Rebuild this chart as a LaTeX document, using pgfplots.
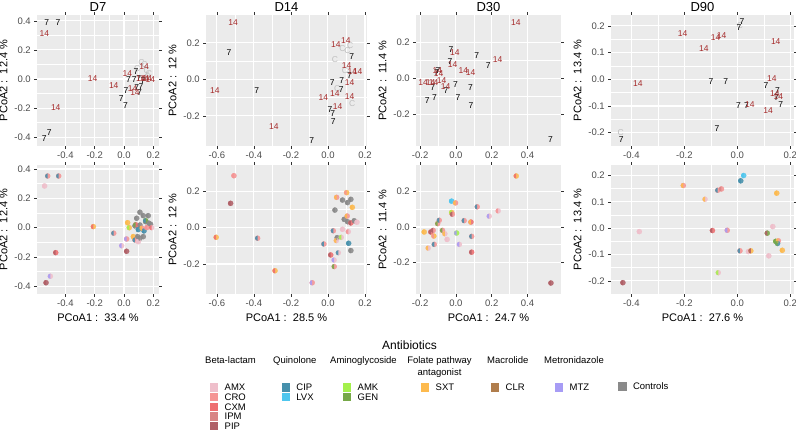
\documentclass[border=0pt]{standalone}
\usepackage{fontspec}
\setmainfont{Liberation Sans}
\usepackage{pgfplots}
\usepackage{pgfplotstable}
\pgfplotsset{compat=1.18}
\usetikzlibrary{calc}
\definecolor{panel}{HTML}{EBEBEB}
\definecolor{tickc}{HTML}{4D4D4D}
\definecolor{lab14}{HTML}{A52A2A}
\definecolor{cAMX}{HTML}{EFBFCB}
\definecolor{cCRO}{HTML}{F59494}
\definecolor{cCXM}{HTML}{EE6E70}
\definecolor{cIPM}{HTML}{D88585}
\definecolor{cPIP}{HTML}{B06067}
\definecolor{cCIP}{HTML}{4690AC}
\definecolor{cLVX}{HTML}{4EC6EE}
\definecolor{cAMK}{HTML}{A4F04C}
\definecolor{cGEN}{HTML}{76A848}
\definecolor{cSXT}{HTML}{FDBA4E}
\definecolor{cCLR}{HTML}{B07D4C}
\definecolor{cMTZ}{HTML}{A79CF5}
\definecolor{cCtl}{HTML}{8A8A8A}

% left half of a disc, drawn over the full disc for two-coloured points
\pgfdeclareplotmark{lhalf}{%
  \pgfpathmoveto{\pgfqpoint{0pt}{\pgfplotmarksize}}%
  \pgfpatharc{90}{270}{\pgfplotmarksize}%
  \pgfpathclose
  \pgfusepathqfill}

\pgfplotsset{
  gg/.style={
    scale only axis, axis background/.style={fill=panel},
    axis line style={draw=none},
    grid=both, major grid style={white, line width=1.1pt},
    minor grid style={white, line width=0.55pt},
    minor tick num=1, minor tick length=0pt,
    tick align=outside, major tick length=2.75pt,
    major tick style={black!80, line width=0.5pt},
    tick label style={font=\fontsize{9.5}{10}\selectfont, color=tickc},
    /pgf/number format/assume math mode=true,
    /pgf/number format/fixed, /pgf/number format/fixed zerofill,
    /pgf/number format/precision=1,
    label style={font=\fontsize{11}{12}\selectfont},
    title style={font=\fontsize{13}{14}\selectfont, yshift=-6pt},
    scaled ticks=false,
  },
  t7/.style={only marks, mark=text, text mark={7}, text mark as node=true,
    text mark style={font=\fontsize{8.5}{9}\selectfont, text=black}},
  t14/.style={only marks, mark=text, text mark={14}, text mark as node=true,
    text mark style={font=\fontsize{8.5}{9}\selectfont, text=lab14}},
  tC/.style={only marks, mark=text, text mark={C}, text mark as node=true,
    text mark style={font=\fontsize{8.5}{9}\selectfont, text=black!25}},
  abx/.style={only marks, scatter, point meta=explicit symbolic,
    scatter/classes={AMX={cAMX},CRO={cCRO},CXM={cCXM},IPM={cIPM},PIP={cPIP},
      CIP={cCIP},LVX={cLVX},AMK={cAMK},GEN={cGEN},SXT={cSXT},CLR={cCLR},
      MTZ={cMTZ},C={cCtl}},
    mark size=2.6pt, mark options={line width=0.2pt, fill opacity=0.88, draw opacity=0.88}},
}

% ---- top row: sample labels ----
\pgfplotstableread{
x y
-0.528 0.387
-0.45 0.387
-0.51 -0.366
-0.544 -0.407
0.082 0.05
0.03 -0.007
0.07 -0.002
0.1 0.0
0.13 -0.008
0.014 -0.08
0.105 -0.09
0.087 -0.06
-0.018 -0.133
0.011 -0.185
0.116 -0.053
}\sevenA
\pgfplotstableread{
x y
-0.544 0.314
-0.214 0.002
-0.07 -0.046
-0.466 -0.195
0.023 0.039
0.137 0.085
0.115 0.0
0.14 0.0
0.16 0.0
0.18 -0.002
0.059 -0.064
0.075 -0.091
}\sevenB
\pgfplotstableread{
x y
0.12 0.11
0.14 0.1
0.155 0.06
0.17 0.04
0.16 0.02
0.09 0.07
}\sevenC

\pgfplotstableread{
x y
-0.535 0.148
-0.385 -0.062
-0.088 -0.333
0.128 0.124
0.117 0.02
0.023 -0.018
0.074 -0.008
0.072 -0.055
0.011 -0.164
0.026 -0.19
0.029 -0.232
}\fourteenA
\pgfplotstableread{
x y
-0.512 0.312
-0.611 -0.059
-0.292 -0.26
0.043 0.188
0.097 0.21
0.101 0.073
0.132 0.04
0.16 0.04
0.117 -0.018
0.038 -0.08
-0.025 -0.099
0.117 -0.095
0.052 -0.15
}\fourteenB
\pgfplotstableread{
x y
0.079 0.17
0.106 0.16
0.12 0.185
0.038 0.11
0.092 0.05
0.05 -0.05
0.131 -0.135
}\fourteenC

\pgfplotstableread{
x y
-0.028 0.16
0.116 0.123
-0.033 0.092
0.18 0.068
-0.108 0.03
-0.13 -0.05
-0.002 -0.033
-0.056 -0.066
0.082 -0.053
-0.12 -0.107
-0.16 -0.125
0.011 -0.105
0.084 -0.153
0.529 -0.337
-0.1 0.045
}\thirtyA
\pgfplotstableread{
x y
0.335 0.309
-0.006 0.144
0.233 0.101
-0.018 0.078
-0.104 0.042
-0.097 0.028
0.041 0.042
0.082 0.033
-0.183 -0.024
-0.142 -0.024
-0.124 -0.026
-0.08 -0.015
-0.058 -0.043
}\thirtyB

\pgfplotstableread{
x y
0.018 0.218
0.006 0.195
-0.099 -0.01
-0.044 -0.01
0.108 -0.025
0.152 -0.043
0.148 -0.07
0.004 -0.097
0.035 -0.097
0.164 -0.094
-0.077 -0.184
-0.438 -0.227
}\ninetyA
\pgfplotstableread{
x y
-0.207 0.172
-0.082 0.156
-0.059 0.163
-0.126 0.117
0.145 0.141
-0.376 -0.015
0.13 0.004
0.142 -0.055
0.155 -0.065
0.047 -0.096
0.116 -0.119
}\ninetyB
\pgfplotstableread{
x y
0.01 0.2
-0.44 -0.2
0.15 -0.06
}\ninetyC

% ---- bottom row: antibiotic points (a = full disc, b = left half) ----
\pgfplotstableread{
x y a b
0.109 0.105 C C
0.132 0.082 C C
0.166 0.082 C C
0.087 0.064 C C
0.148 0.041 C C
0.171 0.03 C C
0.075 0.012 C C
0.109 0.018 C C
0.182 0.023 C C
0.093 -0.061 C C
0.132 -0.061 C C
0.109 -0.072 C C
-0.521 0.352 CRO CIP
-0.446 0.352 CRO CIP
-0.542 0.284 AMX AMX
-0.209 0.007 SXT CXM
-0.07 -0.038 CRO CIP
-0.466 -0.17 CXM PIP
-0.503 -0.331 AMX MTZ
-0.532 -0.375 PIP PIP
0.018 -0.161 PIP PIP
-0.016 -0.123 AMX MTZ
0.018 -0.077 CRO MTZ
0.025 0.034 SXT SXT
0.036 0.0 SXT AMK
0.064 -0.061 SXT SXT
0.075 -0.084 CRO CIP
0.098 -0.095 AMX AMX
0.137 -0.022 CIP CIP
0.123 -0.004 CRO SXT
0.189 0.0 AMX CXM
0.148 0.048 GEN CIP
0.157 0.001 CRO CRO
0.098 -0.013 CIP CIP
0.08 0.02 CXM GEN
}\ptsSeven
\pgfplotstableread{
x y a b
0.079 0.152 C C
0.106 0.138 C C
0.124 0.156 C C
0.038 0.097 C C
0.088 0.046 C C
0.106 0.033 C C
0.142 0.038 C C
0.05 -0.055 C C
0.124 -0.126 C C
-0.508 0.286 CRO CRO
0.101 0.193 SXT CRO
0.047 0.167 CRO SXT
-0.526 0.134 PIP PIP
-0.604 -0.053 SXT CXM
-0.38 -0.058 CRO CIP
-0.286 -0.237 SXT CXM
-0.085 -0.303 CRO MTZ
0.132 0.112 SXT SXT
0.104 0.064 CRO SXT
0.124 0.026 CXM PIP
0.157 0.03 AMX AMX
0.029 -0.017 CRO CIP
0.079 -0.009 AMX AMX
0.11 -0.022 AMX CRO
0.072 -0.053 AMX AMK
0.045 -0.071 AMX SXT
-0.022 -0.09 CRO CIP
0.112 -0.086 CIP CIP
0.056 -0.138 AMX CIP
0.015 -0.15 CXM PIP
0.033 -0.178 AMX MTZ
0.034 -0.214 CRO GEN
}\ptsFourteen
\pgfplotstableread{
x y a b
0.337 0.288 SXT CXM
-0.024 0.146 LVX LVX
-0.002 0.136 CRO SXT
0.119 0.114 CRO CIP
0.236 0.091 AMX CRO
0.186 0.061 AMX MTZ
-0.024 0.082 SXT AMK
-0.02 0.072 CRO PIP
0.046 0.036 CRO CIP
0.084 0.028 CXM SXT
-0.093 0.038 CRO CIP
-0.102 0.019 CRO GEN
-0.177 -0.028 SXT SXT
-0.14 -0.028 CXM PIP
-0.127 -0.019 CRO PIP
-0.075 -0.019 CRO GEN
-0.123 -0.051 SXT CRO
-0.062 -0.038 AMX SXT
-0.049 -0.07 AMX AMX
0.004 -0.034 AMK MTZ
0.088 -0.053 CRO CIP
0.019 -0.098 AMX MTZ
-0.121 -0.098 CRO CIP
-0.155 -0.119 AMX SXT
0.088 -0.142 CXM PIP
0.531 -0.316 PIP PIP
}\ptsThirty
\pgfplotstableread{
x y a b
0.024 0.2 LVX LVX
0.013 0.18 CIP CIP
-0.204 0.162 CRO SXT
-0.074 0.144 CRO CIP
-0.06 0.149 CRO IPM
0.149 0.133 SXT SXT
-0.122 0.11 AMX SXT
-0.37 -0.013 AMX AMX
-0.094 -0.009 CXM PIP
-0.038 -0.008 CRO MTZ
0.134 0.006 AMX AMX
0.113 -0.019 GEN PIP
0.145 -0.05 GEN GEN
0.155 -0.048 CRO SXT
0.152 -0.058 CIP GEN
0.01 -0.086 CRO CIP
0.042 -0.089 AMX AMX
0.051 -0.086 SXT PIP
0.17 -0.084 SXT SXT
0.119 -0.105 AMX AMX
-0.072 -0.169 AMX AMK
-0.432 -0.207 PIP PIP
}\ptsNinety

\newcommand{\key}[4]{%
  \fill[#1] (#2,#3) rectangle ++(8.3,-8.3);
  \node[anchor=west, inner sep=0pt, font=\fontsize{9.5}{10}\selectfont] at ($(#2,#3)+(14.5,-4.3)$) {#4};}

\begin{document}
\begin{tikzpicture}
\path[use as bounding box] (0pt,0pt) rectangle (796pt,431pt);

% ================= D7 =================
\begin{axis}[gg, at={(37pt,416pt)}, anchor=north west, width=122pt, height=131pt,
  title={D7}, ylabel={PCoA2 :\ \ 12.4 \%},
  xmin=-0.594, xmax=0.239, ymin=-0.46, ymax=0.44,
  xtick={-0.4,-0.2,0,0.2}, ytick={-0.4,-0.2,0,0.2,0.4}]
\addplot[tC] table {\sevenC};
\addplot[t7] table {\sevenA};
\addplot[t14] table {\sevenB};
\end{axis}
\begin{axis}[gg, at={(37pt,266pt)}, anchor=north west, width=122pt, height=129pt,
  ylabel={PCoA2 :\ \ 12.4 \%}, xlabel={PCoA1 :\ \ 33.4 \%},
  xmin=-0.594, xmax=0.239, ymin=-0.452, ymax=0.427,
  xtick={-0.4,-0.2,0,0.2}, ytick={-0.4,-0.2,0,0.2,0.4}]
\addplot[abx, mark=*] table[x=x, y=y, meta=a] {\ptsSeven};
\addplot[abx, mark=lhalf] table[x=x, y=y, meta=b] {\ptsSeven};
\end{axis}

% ================= D14 =================
\begin{axis}[gg, at={(206pt,416pt)}, anchor=north west, width=161pt, height=131pt,
  title={D14}, ylabel={PCoA2 :\ \ 12 \%},
  xmin=-0.659, xmax=0.211, ymin=-0.365, ymax=0.352,
  xtick={-0.6,-0.4,-0.2,0,0.2}, ytick={-0.2,0,0.2}]
\addplot[tC] table {\fourteenC};
\addplot[t7] table {\fourteenA};
\addplot[t14] table {\fourteenB};
\end{axis}
\begin{axis}[gg, at={(206pt,266pt)}, anchor=north west, width=161pt, height=129pt,
  ylabel={PCoA2 :\ \ 12 \%}, xlabel={PCoA1 :\ \ 28.5 \%},
  xmin=-0.659, xmax=0.211, ymin=-0.365, ymax=0.345,
  xtick={-0.6,-0.4,-0.2,0,0.2}, ytick={-0.2,0,0.2}]
\addplot[abx, mark=*] table[x=x, y=y, meta=a] {\ptsFourteen};
\addplot[abx, mark=lhalf] table[x=x, y=y, meta=b] {\ptsFourteen};
\end{axis}

% ================= D30 =================
\begin{axis}[gg, at={(416pt,416pt)}, anchor=north west, width=145pt, height=131pt,
  title={D30}, ylabel={PCoA2 :\ \ 11.4 \%},
  xmin=-0.223, xmax=0.587, ymin=-0.374, ymax=0.35,
  xtick={-0.2,0,0.2,0.4}, ytick={-0.2,0,0.2}]
\addplot[t7] table {\thirtyA};
\addplot[t14] table {\thirtyB};
\end{axis}
\begin{axis}[gg, at={(416pt,266pt)}, anchor=north west, width=145pt, height=129pt,
  ylabel={PCoA2 :\ \ 11.4 \%}, xlabel={PCoA1 :\ \ 24.7 \%},
  xmin=-0.223, xmax=0.587, ymin=-0.378, ymax=0.35,
  xtick={-0.2,0,0.2,0.4}, ytick={-0.2,0,0.2}]
\addplot[abx, mark=*] table[x=x, y=y, meta=a] {\ptsThirty};
\addplot[abx, mark=lhalf] table[x=x, y=y, meta=b] {\ptsThirty};
\end{axis}

% ================= D90 =================
\begin{axis}[gg, at={(611pt,416pt)}, anchor=north west, width=183pt, height=131pt,
  title={D90}, ylabel={PCoA2 :\ \ 13.4 \%},
  xmin=-0.477, xmax=0.214, ymin=-0.25, ymax=0.241,
  xtick={-0.4,-0.2,0,0.2}, ytick={-0.2,-0.1,0,0.1,0.2}]
\addplot[tC] table {\ninetyC};
\addplot[t7] table {\ninetyA};
\addplot[t14] table {\ninetyB};
\end{axis}
\begin{axis}[gg, at={(611pt,266pt)}, anchor=north west, width=183pt, height=129pt,
  ylabel={PCoA2 :\ \ 13.4 \%}, xlabel={PCoA1 :\ \ 27.6 \%},
  xmin=-0.477, xmax=0.214, ymin=-0.25, ymax=0.24,
  xtick={-0.4,-0.2,0,0.2}, ytick={-0.2,-0.1,0,0.1,0.2}]
\addplot[abx, mark=*] table[x=x, y=y, meta=a] {\ptsNinety};
\addplot[abx, mark=lhalf] table[x=x, y=y, meta=b] {\ptsNinety};
\end{axis}

% ================= legend =================
\begin{scope}[x=1pt, y=1pt]
\node[anchor=base west, inner sep=0pt, font=\fontsize{12}{13}\selectfont] at (382,81) {Antibiotics};
\begin{scope}[every node/.style={font=\fontsize{9.5}{10}\selectfont, inner sep=0pt}]
\node[anchor=base west] at (205,67) {Beta-lactam};
\node[anchor=base west] at (273,67) {Quinolone};
\node[anchor=base west] at (330,67) {Aminoglycoside};
\node[anchor=base] at (439.5,67) {Folate pathway};
\node[anchor=base] at (439.5,55) {antagonist};
\node[anchor=base west] at (487,67) {Macrolide};
\node[anchor=base west] at (544,67) {Metronidazole};
\end{scope}
\key{cAMX}{210}{47.7}{AMX}
\key{cCRO}{210}{38.0}{CRO}
\key{cCXM}{210}{28.3}{CXM}
\key{cIPM}{210}{18.6}{IPM}
\key{cPIP}{210}{8.9}{PIP}
\key{cCIP}{281.7}{47.7}{CIP}
\key{cLVX}{281.7}{38.0}{LVX}
\key{cAMK}{343}{47.7}{AMK}
\key{cGEN}{343}{38.0}{GEN}
\key{cSXT}{421}{47.7}{SXT}
\key{cCLR}{491}{47.7}{CLR}
\key{cMTZ}{555}{47.7}{MTZ}
\key{cCtl}{618.3}{48.7}{Controls}
\end{scope}
\end{tikzpicture}
\end{document}
